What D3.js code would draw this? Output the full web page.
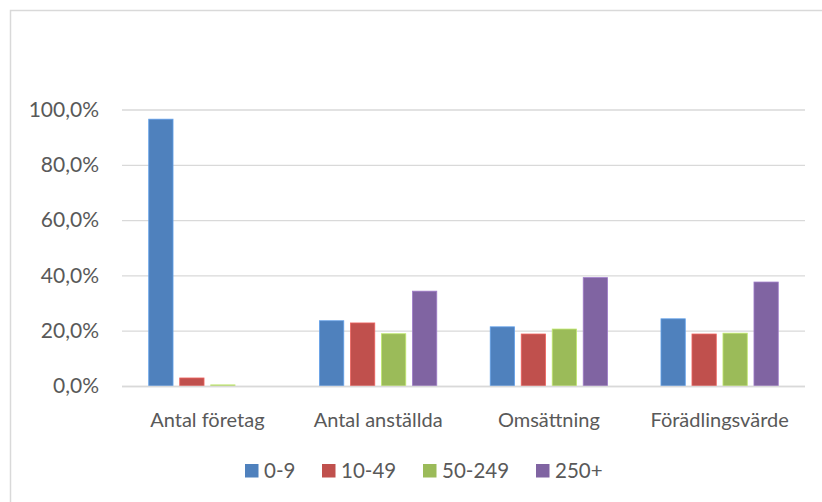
<!DOCTYPE html>
<html>
<head>
<meta charset="utf-8">
<script src="https://cdn.jsdelivr.net/npm/d3@7"></script>
<style>
  html, body { margin: 0; padding: 0; background: #fff; }
  svg { display: block; }
  text { font-family: Lato, "Open Sans", sans-serif; fill: #595959; }
</style>
</head>
<body>
<svg id="chart" width="822" height="502"></svg>
<script>
// Share of companies, employees, turnover and value added by company size class
const categories = ["Antal företag", "Antal anställda", "Omsättning", "Förädlingsvärde"];
const seriesNames = ["0-9", "10-49", "50-249", "250+"];
const seriesColors = ["#4F81BD", "#C0504D", "#9BBB59", "#8064A2"];
const values0to9 = [0.965, 0.236, 0.214, 0.243];
const values10to49 = [0.029, 0.228, 0.188, 0.188];
const values50to249 = [0.004, 0.189, 0.206, 0.191];
const values250plus = [0.000, 0.343, 0.392, 0.376];
const yTicks = [0, 0.2, 0.4, 0.6, 0.8, 1.0];

const seriesValues = [values0to9, values10to49, values50to249, values250plus];

const svg = d3.select("#chart");
const W = 822, H = 502;

// chart area frame
svg.append("rect")
  .attr("x", 10.5).attr("y", 10.5)
  .attr("width", W + 20).attr("height", H + 20)
  .attr("fill", "#fff")
  .attr("stroke", "#D9D9D9").attr("stroke-width", 1.5);

const plot = { left: 122, right: 805, top: 109.5, bottom: 386 };

const x0 = d3.scaleBand().domain(categories).range([plot.left, plot.right]);
const x1 = d3.scaleBand().domain(seriesNames).range([0, x0.bandwidth()])
  .paddingInner(0.216).paddingOuter(0.862);
const y = d3.scaleLinear().domain([0, 1]).range([plot.bottom, plot.top]);

const sv = d3.formatLocale({ decimal: ",", thousands: " ", grouping: [3], currency: ["", " kr"] });
const pct = sv.format(".1%");

// gridlines
const grid = svg.append("g")
  .attr("transform", `translate(${plot.left},0)`)
  .call(d3.axisLeft(y).tickValues(yTicks).tickSize(-(plot.right - plot.left)).tickFormat(""));
grid.select(".domain").remove();
grid.selectAll(".tick line").attr("stroke", "#D9D9D9").attr("stroke-width", 1.3);

// y labels
const yAxis = svg.append("g")
  .attr("transform", `translate(99,0)`)
  .call(d3.axisLeft(y).tickValues(yTicks).tickSize(0).tickPadding(0).tickFormat(pct));
yAxis.select(".domain").remove();
yAxis.selectAll("text").attr("font-size", 21).attr("fill", "#595959")
  .style("font-family", "Lato, 'Open Sans', sans-serif");

// bars
const groups = svg.append("g").selectAll("g")
  .data(categories)
  .join("g")
  .attr("transform", d => `translate(${x0(d)},0)`);

groups.selectAll("rect")
  .data((c, ci) => seriesNames.map((s, si) => ({ s, si, v: seriesValues[si][ci] })))
  .join("rect")
  .attr("x", d => x1(d.s))
  .attr("width", x1.bandwidth())
  .attr("y", d => y(d.v))
  .attr("height", d => y(0) - y(d.v))
  .attr("fill", d => seriesColors[d.si])
  .attr("stroke", d => d.v > 0 ? d3.color(seriesColors[d.si]).brighter(0.6) : "none")
  .attr("stroke-width", 0.8);

// baseline
svg.append("line")
  .attr("x1", plot.left).attr("x2", plot.right)
  .attr("y1", y(0) + 0.5).attr("y2", y(0) + 0.5)
  .attr("stroke", "#D9D9D9").attr("stroke-width", 1.5);

// category labels
const xAxis = svg.append("g")
  .attr("transform", `translate(0,${plot.bottom})`)
  .call(d3.axisBottom(x0).tickSize(0).tickPadding(0));
xAxis.select(".domain").remove();
xAxis.selectAll("text")
  .attr("dy", null)
  .attr("y", 41)
  .attr("font-size", 20)
  .attr("fill", "#595959")
  .style("font-family", "Lato, 'Open Sans', sans-serif");

// legend
const legendX = [245, 322, 423, 536];
const legend = svg.append("g").selectAll("g")
  .data(seriesNames)
  .join("g")
  .attr("transform", (d, i) => `translate(${legendX[i]},464)`);
legend.append("rect")
  .attr("width", 13.5).attr("height", 13.5)
  .attr("fill", (d, i) => seriesColors[i]);
legend.append("text")
  .attr("x", 19).attr("y", 14)
  .attr("font-size", 20.5)
  .text(d => d);
</script>
</body>
</html>
